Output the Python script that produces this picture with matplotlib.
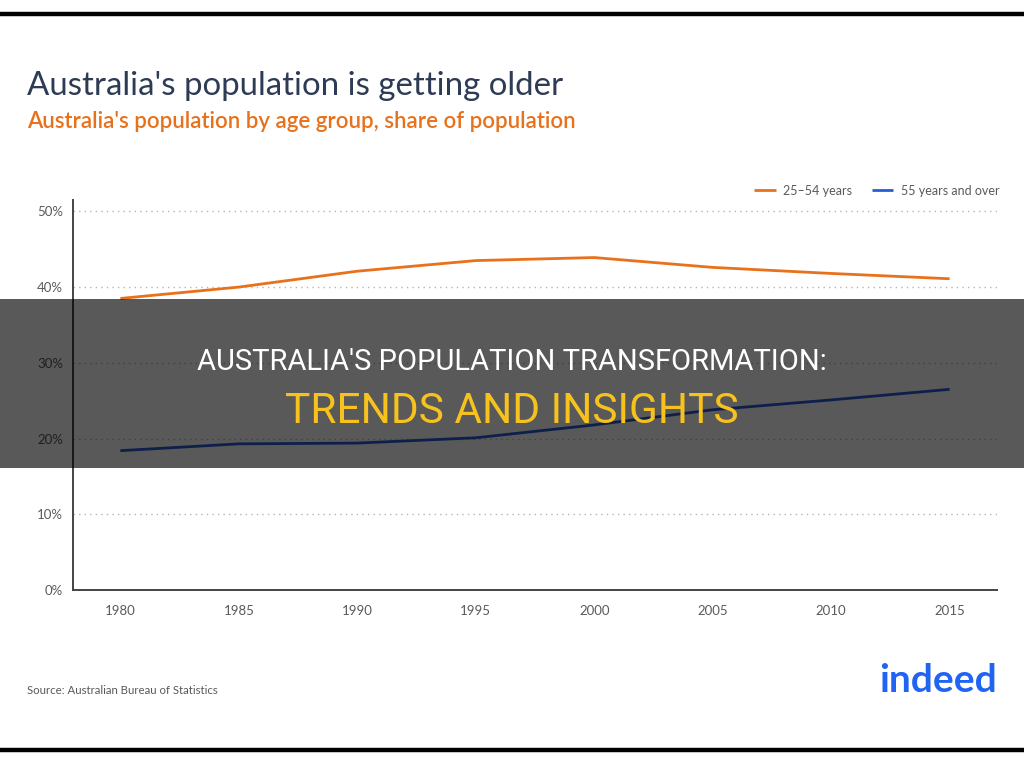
import matplotlib
matplotlib.use("Agg")
import matplotlib.pyplot as plt
from matplotlib.lines import Line2D
from matplotlib.patches import Rectangle
from matplotlib import font_manager

years = [1980, 1985, 1990, 1995, 2000, 2005, 2010, 2015]
age_25_54 = [38.5, 40.0, 42.1, 43.5, 43.9, 42.6, 41.8, 41.1]
age_55_plus = [18.4, 19.3, 19.4, 20.1, 21.8, 23.8, 25.1, 26.5]
series_labels = ["25\u201354 years", "55 years and over"]
y_ticks = [0, 10, 20, 30, 40, 50]
y_tick_labels = ["0%", "10%", "20%", "30%", "40%", "50%"]

ORANGE = "#e8711c"
BLUE = "#2a5bd7"
NAVY = "#2d3b55"
GRAY = "#5a5a5a"

names = {f.name for f in font_manager.fontManager.ttflist}
base_font = "Lato" if "Lato" in names else "DejaVu Sans"
narrow = "Liberation Sans Narrow" if "Liberation Sans Narrow" in names else "Roboto"

fig = plt.figure(figsize=(10.24, 7.63), dpi=100)
fig.patch.set_facecolor("white")

ax = fig.add_axes([73/1024, 1-590/763, 924/1024, 390/763])
ax.plot(years, age_25_54, color=ORANGE, lw=2.0, label=series_labels[0], solid_capstyle="butt")
ax.plot(years, age_55_plus, color=BLUE, lw=2.0, label=series_labels[1], solid_capstyle="butt")
ax.set_xlim(1978, 2017)
ax.set_ylim(0, 51.5)
ax.set_xticks(years)
ax.set_xticklabels([str(y) for y in years])
ax.set_yticks(y_ticks)
ax.set_yticklabels(y_tick_labels)
for v in y_ticks[1:]:
    ax.axhline(v, color="#b5b5b5", lw=1.0, linestyle=(0, (1, 3)), zorder=0)
for s in ["top", "right"]:
    ax.spines[s].set_visible(False)
for s in ["left", "bottom"]:
    ax.spines[s].set_color("#444444")
    ax.spines[s].set_linewidth(1.4)
ax.tick_params(axis="both", length=0, colors=GRAY, labelsize=9.5)
ax.tick_params(axis="x", pad=11)
ax.tick_params(axis="y", pad=7)
for lab in ax.get_xticklabels() + ax.get_yticklabels():
    lab.set_family(base_font)

leg = ax.legend(loc="lower right", bbox_to_anchor=(1.015, 0.98), ncol=2, frameon=False,
                handlelength=1.7, columnspacing=1.6, handletextpad=0.6,
                prop={"family": base_font, "size": 9})
for t in leg.get_texts():
    t.set_color(GRAY)

# Titles
fig.text(27/1024, 1-86/763, "Australia's population is getting older", fontsize=23.8,
         color=NAVY, family=base_font, va="center", ha="left")
fig.text(27/1024, 1-122/763, "Australia's population by age group, share of population",
         fontsize=16, color=ORANGE, family=base_font, weight="semibold", va="center", ha="left")
fig.text(27/1024, 1-690/763, "Source: Australian Bureau of Statistics", fontsize=8.2,
         color=GRAY, family=base_font, va="center", ha="left")
fig.text(997/1024, 1-681/763, "indeed", fontsize=28, color="#2164f3", weight="bold",
         family=base_font, va="center", ha="right")

# Border lines
fig.add_artist(Line2D([0, 1], [1-13.5/763, 1-13.5/763], color="black", lw=3.2, transform=fig.transFigure))
fig.add_artist(Line2D([0, 1], [1-750/763, 1-750/763], color="black", lw=3.2, transform=fig.transFigure))

# Dark overlay band
fig.add_artist(Rectangle((0, 1-468/763), 1, 169/763, transform=fig.transFigure,
                         facecolor="black", alpha=0.65, edgecolor="none", zorder=10))
fig.text(0.5, 1-362/763, "AUSTRALIA'S POPULATION TRANSFORMATION:", fontsize=21,
         color="white", family=narrow, ha="center", va="center", zorder=11)
fig.text(0.5, 1-412/763, "TRENDS AND INSIGHTS", fontsize=30.5, color="#f7c21e",
         family=narrow, ha="center", va="center", zorder=11)

fig.savefig("out.png", dpi=100)
